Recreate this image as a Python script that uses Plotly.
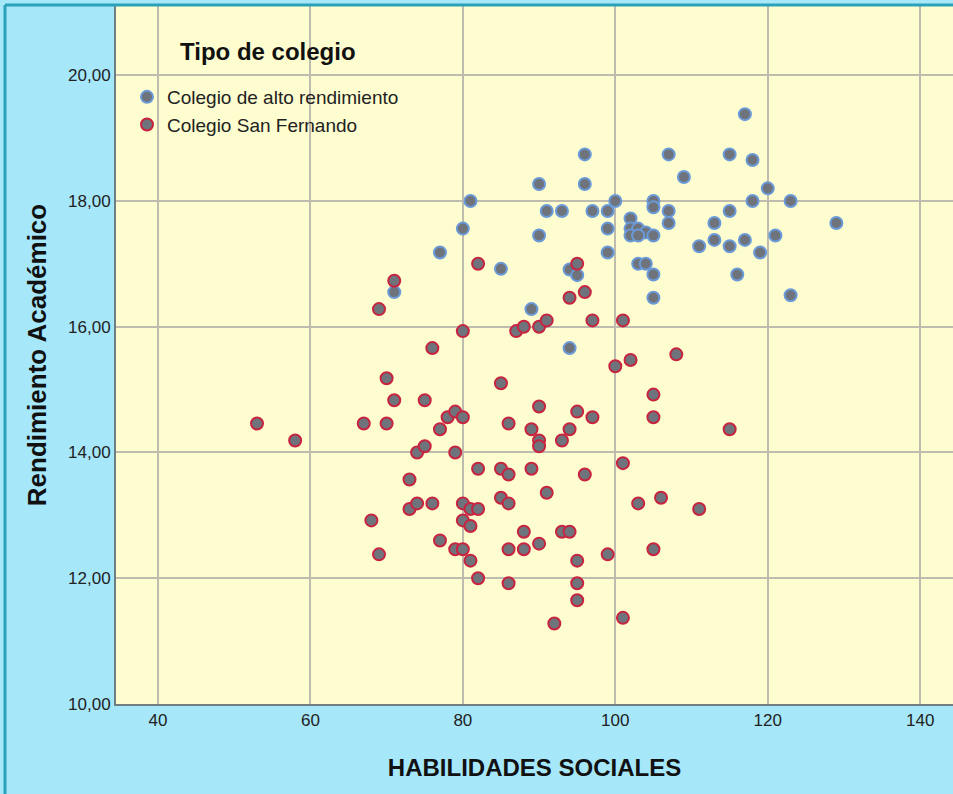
import plotly.graph_objects as go

# Colegio de alto rendimiento (blue outline)
alto_x = [71, 77, 80, 81, 85, 89, 90, 90, 91, 93, 96, 96, 94, 95, 94,
          97, 99, 99, 99, 100, 102, 102, 103, 104, 102, 103, 105, 103, 104,
          105, 105, 105, 105, 107, 107, 107, 109, 111, 113, 113, 115, 115,
          115, 116, 117, 117, 118, 118, 119, 120, 121, 123, 123, 129]
alto_y = [16.55, 17.18, 17.56, 18.00, 16.92, 16.28, 18.27, 17.45, 17.84, 17.84, 18.74, 18.27, 16.91, 16.82, 15.66,
          17.84, 17.84, 17.56, 17.18, 18.00, 17.72, 17.56, 17.56, 17.50, 17.45, 17.45, 17.45, 17.00, 17.00,
          18.00, 17.90, 16.83, 16.46, 18.74, 17.84, 17.65, 18.38, 17.28, 17.65, 17.38, 18.74, 17.84,
          17.28, 16.83, 19.38, 17.38, 18.65, 18.00, 17.18, 18.20, 17.45, 18.00, 16.50, 17.65]

# Colegio San Fernando (red outline)
sf_x = [53, 58, 67, 68, 69, 69, 70, 70, 71, 71, 73, 73, 74, 74, 75, 75, 76, 76, 77, 77,
        78, 79, 79, 79, 80, 80, 80, 80, 80, 81, 81, 81, 82, 82, 82, 82,
        85, 85, 85, 86, 86, 86, 86, 86, 87, 88, 88, 88, 89, 89,
        90, 90, 90, 90, 90, 91, 91, 92, 93, 93, 94, 94, 94,
        95, 95, 95, 95, 95, 96, 96, 97, 97, 99, 100, 101, 101, 101, 102, 103,
        105, 105, 105, 106, 108, 111, 115]
sf_y = [14.46, 14.19, 14.46, 12.92, 16.28, 12.38, 15.18, 14.46, 16.73, 14.83, 13.57, 13.10, 14.00, 13.19, 14.10, 14.83, 15.66, 13.19, 14.37, 12.60,
        14.56, 14.65, 14.00, 12.46, 15.93, 14.56, 13.19, 12.92, 12.46, 13.10, 12.83, 12.28, 17.00, 13.74, 13.10, 12.00,
        15.10, 13.74, 13.28, 14.46, 13.65, 13.19, 12.46, 11.92, 15.93, 16.00, 12.74, 12.46, 14.37, 13.74,
        16.00, 14.73, 14.19, 14.10, 12.55, 16.10, 13.36, 11.28, 14.19, 12.74, 16.46, 14.37, 12.74,
        17.00, 14.65, 12.28, 11.92, 11.65, 16.55, 13.65, 16.10, 14.56, 12.38, 15.37, 16.10, 13.83, 11.37, 15.47, 13.19,
        14.92, 14.56, 12.46, 13.28, 15.56, 13.10, 14.37]

x_ticks = [40, 60, 80, 100, 120, 140]
y_ticks = [10, 12, 14, 16, 18, 20]

series_names = ["Colegio de alto rendimiento", "Colegio San Fernando"]
legend_title = "Tipo de colegio"
x_title = "HABILIDADES SOCIALES"
y_title = "Rendimiento Académico"

FILL = "#6e737c"
FONT = "Liberation Sans, Arial, sans-serif"

fig = go.Figure()
fig.add_trace(go.Scatter(
    x=alto_x, y=alto_y, mode="markers", name=series_names[0],
    marker=dict(size=12, color=FILL, line=dict(color="#6b9ad8", width=2)),
))
fig.add_trace(go.Scatter(
    x=sf_x, y=sf_y, mode="markers", name=series_names[1],
    marker=dict(size=12, color=FILL, line=dict(color="#c8233f", width=2)),
))

W, H = 953, 794
ml, mr, mt, mb = 116, 0, 6, 90
pw = W - ml - mr
ph = H - mt - mb

fig.update_layout(
    width=W, height=H,
    margin=dict(l=ml, r=mr, t=mt, b=mb),
    paper_bgcolor="#a6e7fa",
    plot_bgcolor="#fefdd0",
    separators=",.",
    font=dict(family=FONT, color="#222222"),
    showlegend=True,
    legend=dict(
        x=(127 - ml) / pw, y=1 - (78 - mt) / ph, xanchor="left", yanchor="top",
        bgcolor="rgba(0,0,0,0)", font=dict(size=19, color="#222222", family=FONT),
        itemsizing="constant", tracegroupgap=0,
    ),
    xaxis=dict(
        range=[34.5, 144.3], tickvals=x_ticks, tickformat="d",
        showgrid=True, gridcolor="#bdbcae", gridwidth=2,
        showline=True, linecolor="#6f7f7f", linewidth=2,
        ticks="", zeroline=False,
        tickfont=dict(size=17, color="#222222", family=FONT),
        title=dict(text=x_title, font=dict(size=24, color="#111111", family=FONT), standoff=30),
    ),
    yaxis=dict(
        range=[10, 21.1], tickvals=y_ticks, tickformat=".2f",
        showgrid=True, gridcolor="#bdbcae", gridwidth=2,
        showline=True, linecolor="#6f7f7f", linewidth=2,
        ticks="", zeroline=False,
        tickfont=dict(size=17, color="#222222", family=FONT),
        title=dict(text=y_title, font=dict(size=26, color="#111111", family=FONT), standoff=14),
    ),
    annotations=[dict(
        text="<b>" + legend_title + "</b>", xref="paper", yref="paper",
        x=(178 - ml) / pw, y=1 - (52 - mt) / ph, xanchor="left", yanchor="middle",
        showarrow=False, font=dict(size=24, color="#111111", family=FONT),
    )],
    shapes=[
        dict(type="line", xref="paper", yref="paper",
             x0=(5 - ml) / pw, x1=(5 - ml) / pw, y0=-(mb + 5) / ph, y1=1 + (mt - 5) / ph,
             line=dict(color="#2aa3b8", width=3)),
        dict(type="line", xref="paper", yref="paper",
             x0=(5 - ml) / pw, x1=1.01, y0=1 + (mt - 5) / ph, y1=1 + (mt - 5) / ph,
             line=dict(color="#2aa3b8", width=3)),
    ],
)
fig.update_xaxes(title_font_weight="bold")
fig.update_yaxes(title_font_weight="bold")

fig.write_html("out.html", config={"displayModeBar": False},
               post_script="document.body.style.margin='0px';document.body.style.overflow='hidden';")
